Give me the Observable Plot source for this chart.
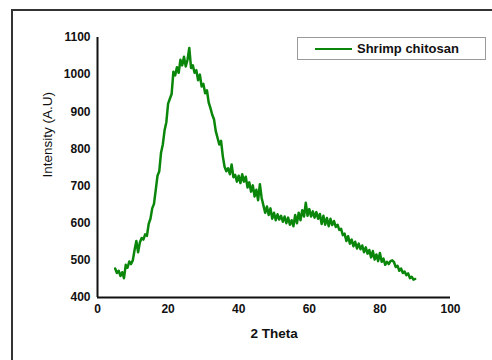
<!DOCTYPE html>
<html>
<head>
<meta charset="utf-8">
<script src="https://cdn.jsdelivr.net/npm/d3@7"></script>
<script src="https://cdn.jsdelivr.net/npm/@observablehq/plot@0.6"></script>
<style>
  body { margin: 0; background: #fff; font-family: "Liberation Sans", Arial, sans-serif; }
  #wrap { position: relative; width: 492px; height: 360px; overflow: hidden; }
  #frame { position: absolute; left: 11px; top: 9px; width: 520px; height: 400px; border: 2px solid #333; box-sizing: border-box; }
  #chart { position: absolute; left: 0; top: 0; }
  #legend { position: absolute; left: 297px; top: 37px; width: 189px; height: 23px; border: 1px solid #999; box-sizing: border-box; display: flex; align-items: center; font-weight: bold; font-size: 13px; color: #111; }
  #legend svg { margin-left: 17px; margin-right: 5px; }
</style>
</head>
<body>
<div id="wrap">
  <div id="frame"></div>
  <div id="chart"></div>
  <div id="legend"></div>
</div>
<script>
const seriesName = "Shrimp chitosan";
const xLabel = "2 Theta";
const yLabel = "Intensity (A.U)";
const lineColor = "#0a870a";
const xTicks = [0, 20, 40, 60, 80, 100];
const yTicks = [400, 500, 600, 700, 800, 900, 1000, 1100];
const theta = [5,5.5,6,6.5,7,7.5,8,8.5,9,9.5,10,10.5,11,11.5,12,12.5,13,13.5,14,14.5,15,15.5,16,16.5,17,17.5,18,18.5,19,19.5,20,20.5,21,21.5,22,22.5,23,23.5,24,24.5,25,25.5,26,26.5,27,27.5,28,28.5,29,29.5,30,30.5,31,31.5,32,32.5,33,33.5,34,34.5,35,35.5,36,36.5,37,37.5,38,38.5,39,39.5,40,40.5,41,41.5,42,42.5,43,43.5,44,44.5,45,45.5,46,46.5,47,47.5,48,48.5,49,49.5,50,50.5,51,51.5,52,52.5,53,53.5,54,54.5,55,55.5,56,56.5,57,57.5,58,58.5,59,59.5,60,60.5,61,61.5,62,62.5,63,63.5,64,64.5,65,65.5,66,66.5,67,67.5,68,68.5,69,69.5,70,70.5,71,71.5,72,72.5,73,73.5,74,74.5,75,75.5,76,76.5,77,77.5,78,78.5,79,79.5,80,80.5,81,81.5,82,82.5,83,83.5,84,84.5,85,85.5,86,86.5,87,87.5,88,88.5,89,89.5,90];
const intensity = [478,466,472,458,468,452,488,480,497,490,500,528,552,522,548,560,556,570,566,598,612,640,652,690,728,740,790,812,850,872,922,935,948,1008,998,1020,1005,1040,1025,1048,1022,1040,1072,1018,1025,1005,1012,985,1000,968,975,950,958,925,910,892,880,848,830,812,822,780,752,740,748,732,758,724,730,712,728,708,732,712,725,696,710,685,702,672,690,662,705,668,648,628,645,622,640,612,628,608,624,610,620,604,618,600,615,596,608,592,622,600,628,608,635,618,655,620,638,618,632,615,630,612,625,598,620,596,614,592,612,595,606,590,596,582,585,568,572,552,565,545,556,538,550,532,545,530,540,522,535,518,528,508,525,502,516,498,520,496,505,488,496,490,498,500,495,482,485,472,478,466,470,460,465,452,456,448,450];

const data = theta.map((t, i) => ({theta: t, intensity: intensity[i]}));

const plot = Plot.plot({
  width: 492,
  height: 360,
  marginLeft: 97,
  marginRight: 42,
  marginTop: 37,
  marginBottom: 63,
  style: {fontFamily: "Liberation Sans, Arial, sans-serif", fontSize: "12px", fontWeight: "bold", color: "#111", background: "transparent"},
  x: {domain: [0, 100]},
  y: {domain: [400, 1100]},
  marks: [
    Plot.axisX({ticks: xTicks, tickSize: 0, tickPadding: 7, tickFormat: d => String(d), label: xLabel, labelAnchor: "center", labelArrow: "none", labelOffset: 40, fontSize: 12}),
    Plot.axisX({ticks: [], label: null}),
    Plot.axisY({ticks: yTicks, tickSize: 0, tickPadding: 7, tickFormat: d => String(d), label: null, fontSize: 12}),
    Plot.text([yLabel], {frameAnchor: "left", dx: -50, dy: 10, rotate: -90, text: d => d, fontSize: 13.5, fontWeight: "normal", fill: "#111"}),
    Plot.ruleX([0], {stroke: "#111", strokeWidth: 2}),
    Plot.ruleY([400], {stroke: "#111", strokeWidth: 2}),
    Plot.line(data, {x: "theta", y: "intensity", stroke: lineColor, strokeWidth: 2.5})
  ]
});
document.getElementById("chart").appendChild(plot);
// enlarge x-axis label to match reference
plot.querySelectorAll('g[aria-label="x-axis label"] text').forEach(t => t.setAttribute("font-size", "13.5"));

const legend = document.getElementById("legend");
legend.innerHTML = `<svg width="37" height="4"><line x1="0" x2="37" y1="2" y2="2" stroke="${lineColor}" stroke-width="2"/></svg><span>${seriesName}</span>`;
</script>
</body>
</html>
